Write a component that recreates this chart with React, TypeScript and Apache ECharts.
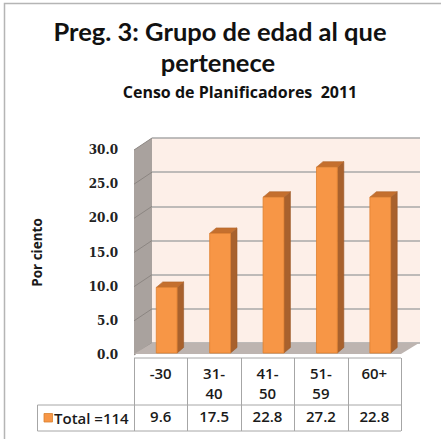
import React, { useEffect, useRef } from "react";
import * as echarts from "echarts";

const categories = ["-30", "31-40", "41-50", "51-59", "60+"];
const values = [9.6, 17.5, 22.8, 27.2, 22.8];
const seriesName = "Total =114";
const titleLines = ["Preg. 3: Grupo de edad al que", "pertenece"];
const subtitle = "Censo de Planificadores  2011";
const yAxisName = "Por ciento";
const yMin = 0;
const yMax = 30;
const yStep = 5;

const FRONT = { left: 134, top: 150, width: 267, height: 205 };
const DEPTH = { dx: 18, dy: -12 };
const TABLE = { top: 358, mid: 405, bottom: 431, legendLeft: 37.5 };
const FONT = "'Open Sans', 'Noto Sans', sans-serif";
const TITLE_FONT = "Lato, 'Open Sans', sans-serif";
const ORANGE = "#F79646";

export default function App() {
  const ref = useRef<HTMLDivElement>(null);
  useEffect(() => {
    if (!ref.current) return;
    const chart = echarts.init(ref.current, undefined, { renderer: "svg" });
    const right = FRONT.left + FRONT.width;
    const cellW = FRONT.width / categories.length;
    const tableLines: any[] = [];
    const lineStyle = { stroke: "#A6A6A6", lineWidth: 1 };
    tableLines.push({ type: "line", shape: { x1: FRONT.left, y1: TABLE.top, x2: right, y2: TABLE.top }, style: lineStyle });
    tableLines.push({ type: "line", shape: { x1: TABLE.legendLeft, y1: TABLE.mid, x2: right, y2: TABLE.mid }, style: lineStyle });
    tableLines.push({ type: "line", shape: { x1: TABLE.legendLeft, y1: TABLE.bottom, x2: right, y2: TABLE.bottom }, style: lineStyle });
    tableLines.push({ type: "line", shape: { x1: TABLE.legendLeft, y1: TABLE.mid, x2: TABLE.legendLeft, y2: TABLE.bottom }, style: lineStyle });
    for (let i = 0; i <= categories.length; i++) {
      const x = Math.round(FRONT.left + i * cellW) + 0.5;
      tableLines.push({ type: "line", shape: { x1: x, y1: TABLE.top, x2: x, y2: TABLE.bottom }, style: lineStyle });
    }

    const tableText = { fontFamily: FONT, fontSize: 15, fontWeight: 600, color: "#1a1a1a" };

    const option: any = {
      animation: false,
      backgroundColor: "#FFFFFF",
      grid: [
        { left: FRONT.left, top: FRONT.top, width: FRONT.width, height: FRONT.height },
        {
          left: FRONT.left + DEPTH.dx,
          top: FRONT.top + DEPTH.dy,
          width: FRONT.width + 1,
          height: FRONT.height,
          show: true,
          backgroundColor: "#FDEFE8",
          borderWidth: 0,
        },
      ],
      xAxis: [
        {
          type: "category",
          gridIndex: 0,
          data: categories,
          axisLine: { show: false },
          axisTick: { show: false },
          axisLabel: {
            margin: 8,
            ...tableText,
            lineHeight: 20,
            formatter: (s: string) => s.replace(/(\d)-(\d)/, "$1-\n$2"),
          },
        },
        {
          type: "category",
          gridIndex: 0,
          position: "bottom",
          offset: 45,
          data: values.map((v) => v.toFixed(1)),
          axisLine: { show: false },
          axisTick: { show: false },
          axisLabel: { margin: 8, ...tableText },
        },
        { type: "category", gridIndex: 1, data: categories, show: false },
      ],
      yAxis: [
        {
          type: "value",
          gridIndex: 0,
          min: yMin,
          max: yMax,
          interval: yStep,
          axisLine: { show: false },
          axisTick: { show: false },
          splitLine: { show: false },
          axisLabel: {
            margin: 16,
            padding: [8, 0, 0, 0],
            fontFamily: "'DejaVu Serif', serif",
            fontWeight: "bold",
            fontSize: 12,
            color: "#222",
            formatter: (v: number) => v.toFixed(1),
          },
          name: yAxisName,
          nameLocation: "middle",
          nameRotate: 90,
          nameGap: 90,
          nameTextStyle: { fontFamily: FONT, fontWeight: "bold", fontSize: 13.5, color: "#1a1a1a" },
        },
        {
          type: "value",
          gridIndex: 1,
          min: yMin,
          max: yMax,
          interval: yStep,
          axisLine: { show: false },
          axisTick: { show: false },
          axisLabel: { show: false },
          splitLine: { show: true, lineStyle: { color: "#A8A8A8", width: 1.5 } },
        },
      ],
      series: [
        {
          type: "custom",
          name: "walls",
          xAxisIndex: 0,
          yAxisIndex: 0,
          z: 1,
          silent: true,
          data: [[0, 0]],
          renderItem: (params: any, api: any) => {
            const cs = params.coordSys;
            const L = cs.x;
            const R = cs.x + cs.width;
            const T = api.coord([0, yMax])[1];
            const B = api.coord([0, yMin])[1];
            const children: any[] = [];
            children.push({
              type: "polygon",
              shape: { points: [[L, T], [L + DEPTH.dx, T + DEPTH.dy], [L + DEPTH.dx, B + DEPTH.dy], [L, B]] },
              style: { fill: "#A9A29E" },
            });
            for (let t = yMin; t <= yMax; t += yStep) {
              const y = api.coord([0, t])[1];
              children.push({
                type: "line",
                shape: { x1: L, y1: y, x2: L + DEPTH.dx, y2: y + DEPTH.dy },
                style: { stroke: "#8C8682", lineWidth: 1 },
              });
            }
            children.push({
              type: "polygon",
              shape: { points: [[L, B - 1], [L + DEPTH.dx, B + DEPTH.dy], [R + DEPTH.dx, B + DEPTH.dy], [R, B - 1]] },
              style: { fill: "#BDB4B0" },
            });
            return { type: "group", children };
          },
        },
        {
          type: "custom",
          name: seriesName,
          xAxisIndex: 0,
          yAxisIndex: 0,
          z: 3,
          data: values.map((v, i) => [i, v]),
          renderItem: (params: any, api: any) => {
            const i = api.value(0);
            const v = api.value(1);
            const base = api.coord([i, 0]);
            const top = api.coord([i, v]);
            const band = api.size([1, 0])[0];
            const w = band * 0.39;
            const cx = base[0] + 6;
            const x0 = cx - w / 2;
            const x1 = cx + w / 2;
            const yb = base[1] - 2;
            const yt = top[1] - 2;
            const ddx = 6.5;
            const ddy = -5.5;
            return {
              type: "group",
              children: [
                {
                  type: "polygon",
                  shape: { points: [[x1, yt], [x1 + ddx, yt + ddy], [x1 + ddx, yb + ddy], [x1, yb]] },
                  style: { fill: "#A8612D", stroke: "#9A5726", lineWidth: 0.6 },
                },
                {
                  type: "polygon",
                  shape: { points: [[x0, yt], [x0 + ddx, yt + ddy], [x1 + ddx, yt + ddy], [x1, yt]] },
                  style: { fill: "#C46F2E", stroke: "#B0642A", lineWidth: 0.6 },
                },
                {
                  type: "rect",
                  shape: { x: x0, y: yt, width: w, height: yb - yt },
                  style: { fill: ORANGE, stroke: "#E0802F", lineWidth: 0.8 },
                },
              ],
            };
          },
        },
      ],
      graphic: [
        {
          type: "rect",
          shape: { x: 4.5, y: 3.5, width: 600, height: 600 },
          style: { fill: "none", stroke: "#B5B5B5", lineWidth: 1.5 },
          silent: true,
        },
        {
          type: "text",
          style: {
            text: titleLines[0],
            x: 220,
            y: 31,
            textAlign: "center",
            textVerticalAlign: "middle",
            fontFamily: TITLE_FONT,
            fontWeight: "bold",
            fontSize: 25.5,
            fill: "#111",
          },
        },
        {
          type: "text",
          style: {
            text: titleLines[1],
            x: 218,
            y: 62,
            textAlign: "center",
            textVerticalAlign: "middle",
            fontFamily: TITLE_FONT,
            fontWeight: "bold",
            fontSize: 25.5,
            fill: "#111",
          },
        },
        {
          type: "text",
          style: {
            text: subtitle,
            x: 240,
            y: 92,
            textAlign: "center",
            textVerticalAlign: "middle",
            fontFamily: FONT,
            fontWeight: "bold",
            fontSize: 16,
            fill: "#111",
          },
        },
        ...tableLines,
        {
          type: "rect",
          shape: { x: 44, y: 413.5, width: 8.5, height: 8.5 },
          style: { fill: ORANGE, stroke: "#D9822F", lineWidth: 0.8 },
        },
        {
          type: "text",
          style: {
            text: seriesName,
            x: 54,
            y: 418,
            textAlign: "left",
            textVerticalAlign: "middle",
            fontFamily: FONT,
            fontSize: 15,
            fontWeight: 600,
            fill: "#1a1a1a",
          },
        },
      ],
    };
    chart.setOption(option);
    return () => chart.dispose();
  }, []);
  return (
    <div
      ref={ref}
      style={{ position: "absolute", left: 0, top: 0, width: 441, height: 439 }}
    />
  );
}
